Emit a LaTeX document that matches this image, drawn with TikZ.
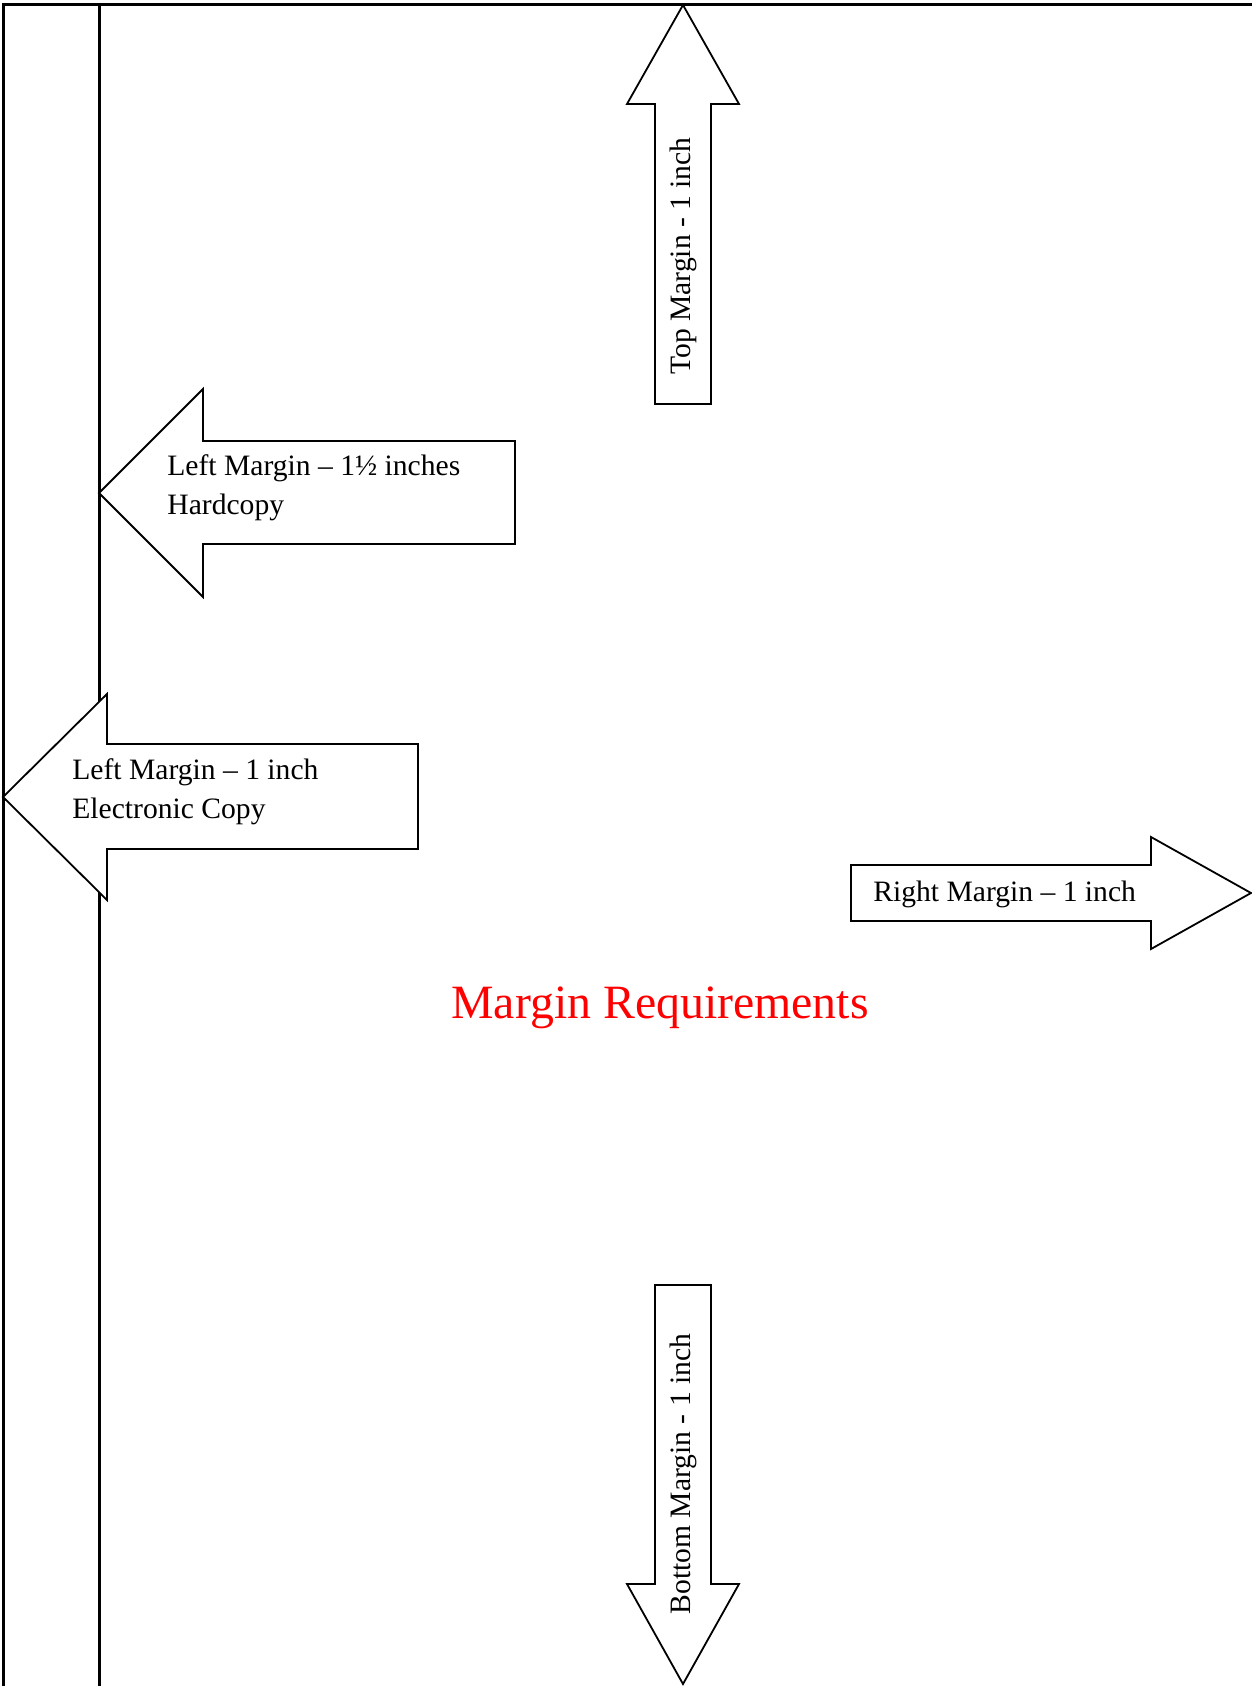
\documentclass[tikz,border=0pt]{standalone}
\usepackage{fontspec}
\setmainfont{Liberation Serif}

\begin{document}
\begin{tikzpicture}[x=0.5pt,y=-0.5pt,
  page line/.style={line width=1.5pt},
  block arrow/.style={draw,line width=0.9pt,fill=white,line join=miter},
  note/.style={font=\fontsize{14.8}{20}\selectfont,inner sep=0pt},
  title/.style={font=\fontsize{23.9}{28}\selectfont,text=red,inner sep=0pt},
  ]
  \useasboundingbox (0,0) rectangle (1252,1686);

  % page edge and margin line
  \draw[page line] (1252,5) -- (3,5) -- (3,1686);
  \draw[page line] (99,5) -- (99,1686);

  % top
  \draw[block arrow] (683,5) -- (739,104) -- (711,104) -- (711,404)
    -- (655,404) -- (655,104) -- (627,104) -- cycle;
  \node[note,rotate=90] (topm) at (683,256) {Top Margin - 1 inch};

  % left, hardcopy
  \draw[block arrow] (99,493) -- (203,389) -- (203,441) -- (515,441)
    -- (515,544) -- (203,544) -- (203,597) -- cycle;
  \node[note,anchor=base west] (hard1) at (167,475) {Left Margin – 1½ inches};
  \node[note,anchor=base west] (hard2) at (167,514) {Hardcopy};

  % left, electronic
  \draw[block arrow] (3,797) -- (107,694) -- (107,744) -- (418,744)
    -- (418,849) -- (107,849) -- (107,900) -- cycle;
  \node[note,anchor=base west] (elec1) at (72,779) {Left Margin – 1 inch};
  \node[note,anchor=base west] (elec2) at (72,818) {Electronic Copy};

  % right
  \draw[block arrow] (1251,893) -- (1151,949) -- (1151,921) -- (851,921)
    -- (851,865) -- (1151,865) -- (1151,837) -- cycle;
  \node[note,anchor=base west] (rightm) at (873,901) {Right Margin – 1 inch};

  % bottom
  \draw[block arrow] (683,1684) -- (739,1584) -- (711,1584) -- (711,1285)
    -- (655,1285) -- (655,1584) -- (627,1584) -- cycle;
  \node[note,rotate=90] (botm) at (683,1474) {Bottom Margin - 1 inch};

  % caption
  \node[title,anchor=base west] (head) at (451,1018) {Margin Requirements};
\end{tikzpicture}
\end{document}
